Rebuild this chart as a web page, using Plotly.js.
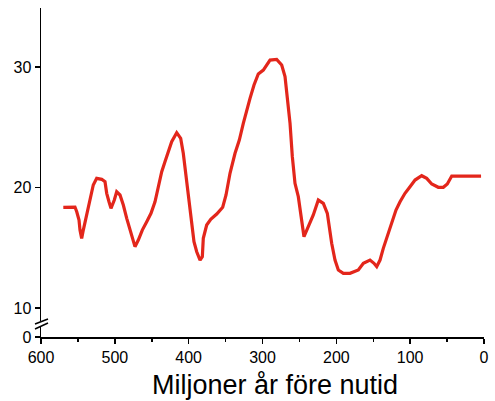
<!DOCTYPE html>
<html>
<head>
<meta charset="utf-8">
<script src="https://cdn.plot.ly/plotly-3.0.1.min.js"></script>
<style>html,body{margin:0;padding:0;background:#fff;}#chart{width:495px;height:401px;}</style>
</head>
<body>
<div id="chart"></div>
<script>
// Millions of years before present
const ageMa = [569.8, 554, 551.6, 548.5, 547.2, 544.9, 542.7, 539.5, 535.9, 532.3, 529.2, 524.6, 517.8, 513.3, 511, 507.9, 505.2, 500.7, 497.5, 493, 488.5, 483.9, 479.5, 476.3, 472.7, 468.2, 462.8, 456.8, 451, 445.6, 441.1, 436.5, 432.1, 427.6, 423, 416.2, 410.8, 407.3, 402.7, 398.2, 394.5, 392.8, 389.1, 384.6, 381.5, 380.2, 375.6, 370.1, 362, 353.9, 349.4, 344, 337.2, 331.4, 326, 323.7, 316.9, 311.5, 305.7, 298.9, 289.8, 280.8, 274, 269.5, 266.4, 262.7, 259.6, 256, 251.5, 247.8, 243.8, 238, 231.2, 224.4, 217.6, 212.2, 208.6, 206.3, 201.8, 197.3, 190.5, 181.5, 170.2, 163.4, 154.4, 149, 145.3, 140.8, 136.4, 131, 125, 119.2, 113.7, 107, 100.2, 93.4, 84.4, 77.6, 70.8, 61.9, 55.1, 49.7, 43.7, 32.5, 4];
// Temperature values
const temp = [18.36, 18.38, 17.99, 17.30, 16.47, 15.78, 16.47, 17.30, 18.30, 19.13, 20.21, 20.76, 20.68, 20.48, 19.52, 18.82, 18.27, 18.96, 19.65, 19.38, 18.55, 17.44, 16.47, 15.64, 15.09, 15.64, 16.47, 17.16, 17.86, 18.82, 20.07, 21.31, 22.14, 22.97, 23.80, 24.55, 24.08, 22.84, 20.35, 18.41, 16.47, 15.50, 14.67, 13.98, 14.26, 15.78, 16.89, 17.36, 17.80, 18.36, 19.38, 21.18, 22.84, 23.94, 25.33, 25.88, 27.40, 28.51, 29.42, 29.75, 30.58, 30.64, 30.17, 29.20, 27.54, 25.33, 22.56, 20.35, 19.24, 17.58, 15.92, 16.75, 17.72, 18.96, 18.69, 17.86, 16.33, 15.37, 13.98, 13.15, 12.88, 12.88, 13.15, 13.71, 13.98, 13.71, 13.43, 13.98, 14.95, 15.92, 17.03, 18.13, 18.82, 19.52, 20.07, 20.62, 20.98, 20.76, 20.29, 20.02, 20.02, 20.29, 20.95, 20.95, 20.95];
const xTicks = [600, 500, 400, 300, 200, 100, 0];
const yTicks = [10, 20, 30];
const yLowTicks = [0];
const xTitle = "Miljoner år före nutid";

const font = {family: "Liberation Sans, Arial, sans-serif", size: 16, color: "#000"};

const traces = [
  {x: ageMa, y: temp, xaxis: "x", yaxis: "y", type: "scatter", mode: "lines",
   line: {color: "#e3261b", width: 3.2}, hoverinfo: "skip"},
  {x: [], y: [], xaxis: "x", yaxis: "y2", type: "scatter", mode: "lines", hoverinfo: "skip"}
];

const layout = {
  width: 495, height: 401,
  margin: {l: 41, r: 11, t: 8, b: 64},
  paper_bgcolor: "#fff", plot_bgcolor: "#fff",
  showlegend: false,
  font: font,
  xaxis: {
    range: [600, 0], anchor: "y2",
    tickmode: "array", tickvals: xTicks, ticktext: xTicks.map(String),
    ticks: "outside", ticklen: 5, tickwidth: 1.5, tickcolor: "#000",
    minor: {dtick: 50, ticks: "outside", ticklen: 3, tickwidth: 1.5, tickcolor: "#000", showgrid: false},
    showline: true, linecolor: "#000", linewidth: 1.5,
    showgrid: false, zeroline: false, tickfont: font
  },
  yaxis: {
    domain: [0.0486, 1], range: [8.92, 34.9], anchor: "x",
    tickmode: "array", tickvals: yTicks, ticktext: yTicks.map(String),
    ticks: "outside", ticklen: 5, tickwidth: 1.5, tickcolor: "#000",
    showline: true, linecolor: "#000", linewidth: 1.5,
    showgrid: false, zeroline: false, tickfont: font
  },
  yaxis2: {
    domain: [0, 0.0334], range: [0, 1], anchor: "x",
    tickmode: "array", tickvals: yLowTicks, ticktext: yLowTicks.map(String),
    ticks: "outside", ticklen: 5, tickwidth: 1.5, tickcolor: "#000",
    showline: true, linecolor: "#000", linewidth: 1.5,
    showgrid: false, zeroline: false, tickfont: font
  },
  shapes: [
    {type: "line", xref: "paper", yref: "paper", x0: -0.0135, y0: 0.0395, x1: 0.0158, y1: 0.0547, line: {color: "#000", width: 1.5}},
    {type: "line", xref: "paper", yref: "paper", x0: -0.0135, y0: 0.0243, x1: 0.0158, y1: 0.0426, line: {color: "#000", width: 1.5}}
  ],
  annotations: [
    {text: xTitle, xref: "paper", yref: "paper", x: 0.529, y: -0.146, xanchor: "center", yanchor: "middle",
     showarrow: false, font: {family: "Liberation Sans, Arial, sans-serif", size: 27, color: "#000"}}
  ]
};

Plotly.newPlot("chart", traces, layout, {displayModeBar: false, staticPlot: true});
</script>
</body>
</html>
